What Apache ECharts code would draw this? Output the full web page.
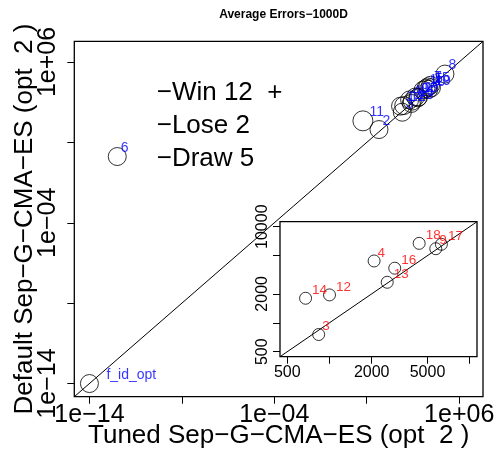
<!DOCTYPE html>
<html><head><meta charset="utf-8">
<script src="https://cdn.jsdelivr.net/npm/echarts@6/dist/echarts.min.js"></script>
<style>html,body{margin:0;padding:0;background:#fff}#c{width:496px;height:456px}</style>
</head><body><div id="c"></div>
<script>
// ---- data (errors, real units) ----
const pointLabels = ['f_id_opt','6','11','2','8','14','12','3','4','13','16','18','9','17','10','1','15','7','19','5'];
const tunedErr   = [1e-14, 3.2e-13, 6.2, 46, 1.7e5, 675, 1000, 837, 2080, 2580, 2920, 4360, 5730, 6280, 11200, 15800, 20000, 28200, 22400, 31600];
const defaultErr = [1e-14, 1.32, 219, 63, 1.78e5, 1800, 1950, 755, 4400, 2640, 3700, 6710, 5900, 6560, 17800, 22400, 28200, 35500, 20000, 25100];
const mainLimits = [1e-14, 2.95e6];
const insetLimits = [500, 10000];
const mainTicks = [1e-14, 1e-9, 1e-4, 10, 1e6];
const mainTickLabels = [1e-14, 1e-4, 1e6];
const insetTicks = [500, 1000, 2000, 5000, 10000];
const insetXTickLabels = [500, 2000, 5000];
const insetYTickLabels = [500, 2000, 10000];
const summaryNames = ['Win', 'Lose', 'Draw'];
const summaryCounts = [12, 2, 5];
const chartTitle = 'Average Errors\u22121000D';
const xTitle = 'Tuned Sep\u2212G\u2212CMA\u2212ES (opt  2 )';
const yTitle = 'Default Sep\u2212G\u2212CMA\u2212ES (opt  2 )';

// ---- helpers ----
const L = Math.log10;
function ext(lim){ const a=L(lim[0]), b=L(lim[1]), d=0.04*(b-a); return [a-d, b+d]; }
const mainR = ext(mainLimits), insR = ext(insetLimits);
function sci(v){ const e=Math.round(v); const s=e<0?'\u2212':'+'; const a=Math.abs(e); return '1e'+s+(a<10?'0'+a:a); }
function plain(v){ return String(Math.round(Math.pow(10,v))); }
const FONT = '"Liberation Sans", Arial, Helvetica, sans-serif';

function offX(lbl){ if(lbl==='f_id_opt') return 17; return lbl.length===1 ? 3.5 : 6.5; }

const mainData = pointLabels.map((n,i)=>({
  name:n, value:[L(tunedErr[i]), L(defaultErr[i])],
  symbolSize: n==='11' ? 20 : 18,
  label:{offset:[offX(n), -8.5]}
}));
const insetData = [];
pointLabels.forEach((n,i)=>{
  const x=tunedErr[i], y=defaultErr[i];
  if(x>=insetLimits[0] && x<=insetLimits[1] && y>=insetLimits[0] && y<=insetLimits[1])
    insetData.push({name:n, value:[L(x),L(y)], label:{offset:[offX(n), -8]}});
});

function axisBase(grid, range, ticks, lbls, fmt, fs, margin, rot){
  return {
    type:'value', gridIndex:grid, min:range[0], max:range[1],
    splitLine:{show:false},
    axisLine:{show:false, onZero:false},
    axisTick:{show:true, length:7, lineStyle:{color:'#000', width:1}, customValues: ticks.map(L)},
    axisLabel:{customValues: lbls.map(L), formatter: fmt, fontSize: fs, color:'#000',
               fontFamily: FONT, margin: margin, rotate: rot||0},
  };
}

const chart = echarts.init(document.getElementById('c'), null, {renderer:'canvas'});
const xMain = axisBase(0, mainR, mainTicks, mainTickLabels, sci, 25, 6);
Object.assign(xMain, {name:xTitle, nameLocation:'middle', nameGap:26, nameMoveOverlap:false,
  nameTextStyle:{fontSize:26, color:'#000', fontFamily:FONT}});
const yMain = axisBase(0, mainR, mainTicks, mainTickLabels, sci, 25, 14, 90);
Object.assign(yMain, {name:yTitle, nameLocation:'middle', nameGap:36, nameMoveOverlap:false,
  nameTextStyle:{fontSize:26, color:'#000', fontFamily:FONT}});
const xIns = axisBase(1, insR, insetTicks, insetXTickLabels, plain, 16, 8);
const yIns = axisBase(1, insR, insetTicks, insetYTickLabels, plain, 16, 9, 90);
xIns.z = 12; yIns.z = 12;

const option = {
  backgroundColor:'#fff',
  animation:false,
  title:{text: chartTitle, left: 278.5, top: 4, textAlign:'center',
         textStyle:{fontSize:12, fontWeight:'bold', color:'#000', fontFamily:FONT}},
  grid:[
    {left:74.3, top:41.3, width:408.7, height:355.4, show:true, borderColor:'#000', borderWidth:1.3,
     backgroundColor:'transparent', containLabel:false, outerBoundsMode:'none'},
    {left:280, top:221.7, width:197, height:135, show:true, borderColor:'#000', borderWidth:1.3,
     backgroundColor:'#fff', z:10, containLabel:false, outerBoundsMode:'none'}
  ],
  xAxis:[xMain, xIns],
  yAxis:[yMain, yIns],
  graphic: summaryNames.map((n,i)=>({
    type:'text', left:156.7, top: 95 + i*33 - 15, z:20,
    style:{text:'\u2212'+n+' '+summaryCounts[i]+(i===0?'  +':''), font:'26px '+FONT, fill:'#000'}
  })),
  series:[
    {type:'line', xAxisIndex:0, yAxisIndex:0, data:[[mainR[0],mainR[0]],[mainR[1],mainR[1]]],
     symbol:'none', lineStyle:{color:'#000', width:1}, silent:true, z:2},
    {type:'scatter', xAxisIndex:0, yAxisIndex:0, data: mainData, symbol:'circle',
     itemStyle:{color:'rgba(0,0,0,0)', borderColor:'#000', borderWidth:1}, z:3,
     label:{show:true, formatter:p=>p.name, position:'inside', align:'left', verticalAlign:'middle',
            color:'#0000FF', fontSize:14, fontFamily:FONT}},
    {type:'line', xAxisIndex:1, yAxisIndex:1, data:[[insR[0],insR[0]],[insR[1],insR[1]]],
     symbol:'none', lineStyle:{color:'#000', width:1}, silent:true, z:11},
    {type:'scatter', xAxisIndex:1, yAxisIndex:1, data: insetData, symbol:'circle', symbolSize:12,
     itemStyle:{color:'rgba(0,0,0,0)', borderColor:'#000', borderWidth:1}, z:12,
     label:{show:true, formatter:p=>p.name, position:'inside', align:'left', verticalAlign:'middle',
            color:'#FF0000', fontSize:13.5, fontFamily:FONT}}
  ]
};
chart.setOption(option);
</script></body></html>
